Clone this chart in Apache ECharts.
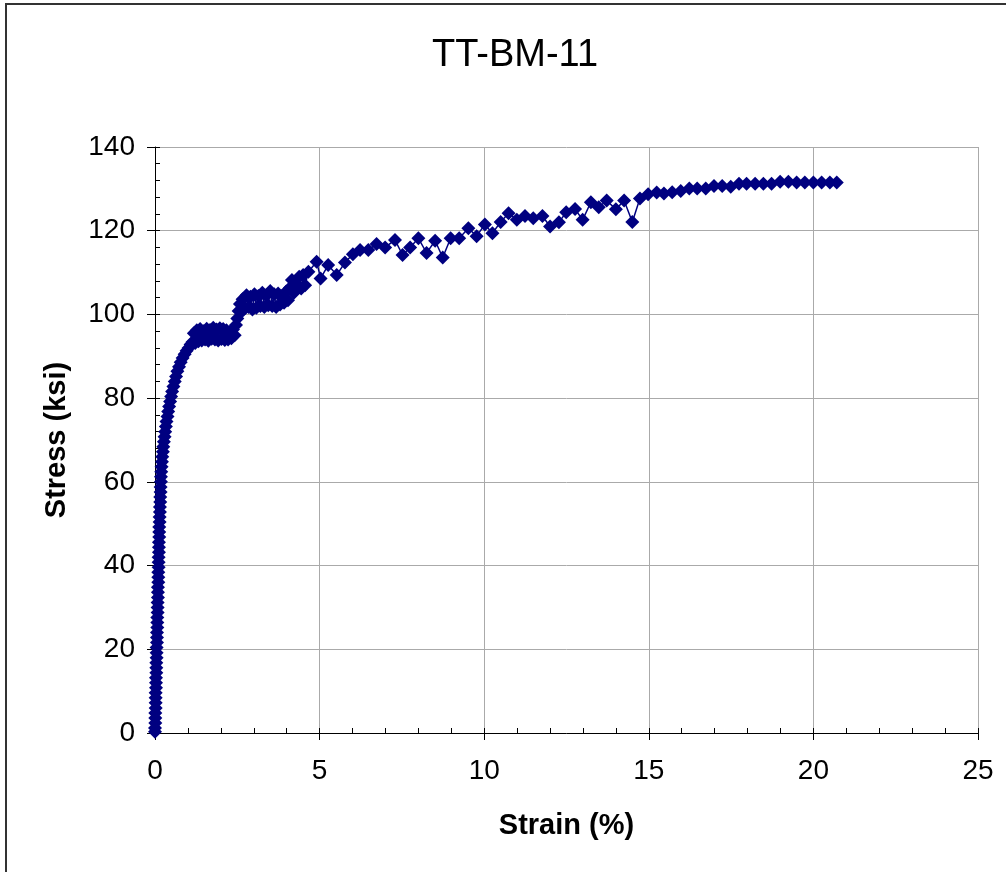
<!DOCTYPE html>
<html>
<head>
<meta charset="utf-8">
<title>TT-BM-11</title>
<script src="https://cdn.jsdelivr.net/npm/echarts@6/dist/echarts.min.js"></script>
<style>
html, body { margin: 0; padding: 0; background: #fff; }
#main { width: 1006px; height: 872px; }
</style>
</head>
<body>
<div id="main"></div>
<script>
// 应变 (%)
var strain = [
    0.00, 0.00, 0.01, 0.01, 0.01, 0.02, 0.02, 0.02, 0.02, 0.03, 0.03, 0.03, 0.04, 0.04, 0.04, 0.05, 0.05, 0.05, 0.06, 0.06,
    0.06, 0.07, 0.07, 0.07, 0.08, 0.08, 0.08, 0.09, 0.09, 0.09, 0.10, 0.10, 0.10, 0.11, 0.11, 0.11, 0.12, 0.12, 0.12, 0.13,
    0.13, 0.13, 0.14, 0.14, 0.15, 0.15, 0.16, 0.16, 0.17, 0.17, 0.18, 0.18, 0.19, 0.20, 0.21, 0.22, 0.24, 0.25, 0.27, 0.29,
    0.31, 0.33, 0.35, 0.38, 0.40, 0.43, 0.46, 0.49, 0.52, 0.56, 0.60, 0.64, 0.68, 0.73, 0.78, 0.84, 0.90, 0.96, 1.02, 1.08, 1.14,
    1.18, 1.22, 1.27, 1.32, 1.37, 1.42, 1.47, 1.52, 1.57, 1.62, 1.67, 1.72, 1.77, 1.82, 1.87, 1.92, 1.97, 2.02, 2.07, 2.12,
    2.17, 2.22, 2.27, 2.32, 2.37, 2.42,
    2.46, 2.50, 2.54, 2.58, 2.62, 2.66,
    2.72, 2.78, 2.84, 2.90, 2.96, 3.02, 3.08, 3.14, 3.20, 3.26, 3.32, 3.38, 3.44, 3.50, 3.56, 3.62, 3.68, 3.74, 3.80, 3.86,
    3.92, 3.98, 4.04, 4.10, 4.16, 4.22, 4.30, 4.38, 4.44, 4.50, 4.56, 4.66,
    4.91, 5.03, 5.26, 5.52, 5.77, 6.01, 6.23, 6.48, 6.73, 6.99, 7.29, 7.52, 7.75, 8.00, 8.25, 8.51, 8.74, 8.98, 9.24, 9.52,
    9.77, 10.02, 10.25, 10.50, 10.74, 10.99, 11.24, 11.49, 11.77, 12.00, 12.27, 12.49, 12.76, 12.99, 13.24, 13.48, 13.72, 14.00, 14.25, 14.50,
    14.73, 14.98, 15.24, 15.46, 15.71, 15.97, 16.23, 16.47, 16.73, 16.98, 17.23, 17.49, 17.74, 17.97, 18.23, 18.48, 18.73, 18.99, 19.24, 19.49,
    19.74, 20.00, 20.25, 20.50, 20.71
];
// 应力 (ksi)
var stress = [
    0.3, 1.2, 2.4, 3.6, 4.8, 6.0, 7.2, 8.4, 9.6, 10.8, 12.0, 13.2, 14.4, 15.6, 16.8, 18.0, 19.2, 20.4, 21.6, 22.8,
    24.0, 25.2, 26.4, 27.6, 28.8, 30.0, 31.2, 32.4, 33.6, 34.8, 36.0, 37.2, 38.4, 39.6, 40.8, 42.0, 43.2, 44.4, 45.6, 46.8,
    48.0, 49.2, 50.4, 51.6, 52.8, 54.0, 55.2, 56.4, 57.6, 58.8, 60.0, 61.2, 62.4, 63.6, 64.8, 66.0, 67.2, 68.4, 69.6, 70.8,
    72.0, 73.2, 74.4, 75.6, 76.8, 78.0, 79.2, 80.4, 81.6, 82.8, 84.0, 85.2, 86.4, 87.5, 88.6, 89.6, 90.5, 91.3, 92.0, 92.8, 93.4,
    95.5, 93.2, 96.2, 93.6, 96.5, 93.8, 96.0, 94.0, 96.6, 93.7, 96.3, 94.2, 96.8, 94.0, 96.4, 93.8, 96.7, 94.1, 96.5, 93.9,
    96.2, 94.0, 95.8, 94.3, 96.4, 95.0,
    97.5, 99.0, 100.8, 102.5, 100.6, 103.6,
    101.4, 104.6, 101.8, 104.2, 101.2, 104.8, 101.6, 104.4, 102.0, 105.2, 101.8, 104.6, 102.2, 105.6, 102.0, 104.8, 101.8, 105.0, 102.4, 104.4,
    102.8, 105.4, 103.4, 106.4, 108.2, 105.2, 107.0, 109.0, 106.2, 109.4, 107.0, 110.2,
    112.6, 108.6, 111.8, 109.4, 112.4, 114.4, 115.4, 115.4, 116.8, 116.0, 117.8, 114.2, 116.0, 118.2, 114.7, 117.6, 113.6, 118.2, 118.2, 120.6,
    118.7, 121.5, 119.4, 122.1, 124.2, 122.6, 123.5, 123.0, 123.5, 121.0, 122.0, 124.4, 125.2, 122.6, 126.8, 125.6, 127.2, 125.1, 127.2, 122.1,
    127.7, 128.7, 129.1, 128.9, 129.2, 129.5, 130.1, 130.1, 130.1, 130.7, 130.7, 130.5, 131.2, 131.2, 131.2, 131.2, 131.2, 131.7, 131.7, 131.5,
    131.5, 131.5, 131.5, 131.5, 131.5
];
var xTicks = [0, 5, 10, 15, 20, 25];
var yTicks = [0, 20, 40, 60, 80, 100, 120, 140];

var chart_page = {
    chart : null,
    init : function() {
        this.chart = echarts.init(document.getElementById('main'), null, { renderer : 'canvas' });
        var points = [];
        for (var i = 0; i < strain.length; i++) {
            points.push([ strain[i], stress[i] ]);
        }
        var font = 'Liberation Sans, Arial, sans-serif';
        var option = {
            backgroundColor : '#fff',
            animation : false,
            textStyle : { fontFamily : font },
            title : {
                text : 'TT-BM-11',
                left : 510,
                textAlign : 'center',
                top : 32,
                textStyle : { fontSize : 38, fontWeight : 'normal', color : '#000', fontFamily : font }
            },
            graphic : [ {
                type : 'rect',
                shape : { x : 6, y : 4, width : 1100, height : 1000 },
                style : { fill : 'none', stroke : '#333', lineWidth : 2 },
                silent : true
            } ],
            grid : {
                left : 155,
                right : 28,
                top : 147,
                bottom : 139
            },
            xAxis : [ {
                type : 'value',
                min : xTicks[0],
                max : xTicks[xTicks.length - 1],
                interval : 5,
                position : 'bottom',
                name : 'Strain (%)',
                nameLocation : 'middle',
                nameGap : 78,
                nameTextStyle : { fontSize : 29, fontWeight : 'bold', color : '#000' },
                axisLine : { lineStyle : { color : '#000', width : 1 } },
                axisTick : { show : true, length : 7, lineStyle : { color : '#000' } },
                axisLabel : { fontSize : 28, color : '#000', margin : 24 },
                splitLine : { show : true, lineStyle : { color : '#aaa', width : 1 } }
            }, {
                type : 'value',
                min : 0,
                max : 25,
                interval : 1,
                position : 'bottom',
                axisLine : { show : false },
                axisTick : { show : true, inside : true, length : 5, lineStyle : { color : '#000' } },
                axisLabel : { show : false },
                splitLine : { show : false }
            } ],
            yAxis : [ {
                type : 'value',
                min : yTicks[0],
                max : yTicks[yTicks.length - 1],
                interval : 20,
                position : 'left',
                name : 'Stress (ksi)',
                nameLocation : 'middle',
                nameGap : 84,
                nameTextStyle : { fontSize : 29, fontWeight : 'bold', color : '#000' },
                axisLine : { show : true, lineStyle : { color : '#000', width : 1 } },
                axisTick : { show : true, length : 8, lineStyle : { color : '#000' } },
                axisLabel : { fontSize : 28, color : '#000', margin : 20 },
                splitLine : { show : true, lineStyle : { color : '#aaa', width : 1 } }
            }, {
                type : 'value',
                min : 0,
                max : 140,
                interval : 4,
                position : 'left',
                axisLine : { show : false },
                axisTick : { show : true, inside : true, length : 5, lineStyle : { color : '#000' } },
                axisLabel : { show : false },
                splitLine : { show : false }
            } ],
            series : [ {
                name : 'TT-BM-11',
                type : 'line',
                xAxisIndex : 0,
                yAxisIndex : 0,
                data : points,
                symbol : 'diamond',
                symbolSize : 14,
                showAllSymbol : true,
                lineStyle : { color : '#000080', width : 1.5 },
                itemStyle : { color : '#000080' }
            } ]
        };
        this.chart.setOption(option);
    }
};

chart_page.init();
</script>
</body>
</html>
